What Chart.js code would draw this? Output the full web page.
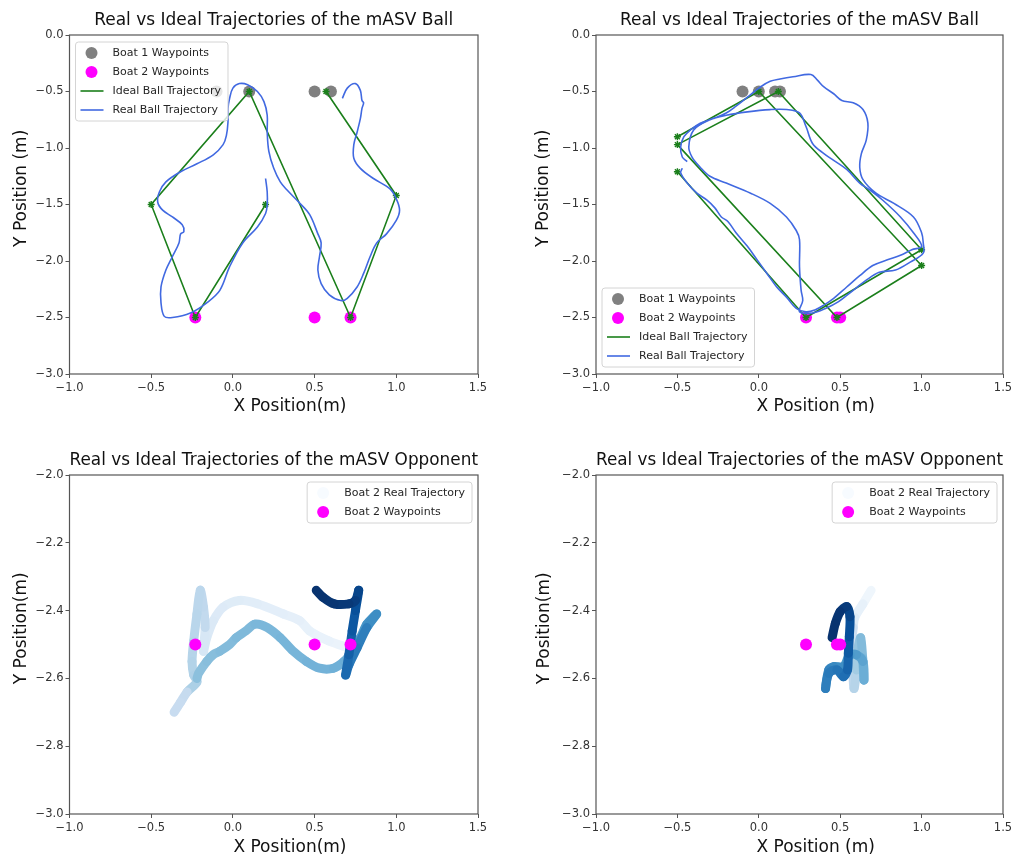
<!DOCTYPE html>
<html>
<head>
<meta charset="utf-8">
<script src="https://cdn.jsdelivr.net/npm/chart.js@4.4.1/dist/chart.umd.min.js"></script>
<style>
  body { margin: 0; background: #fff; width: 1011px; height: 858px; position: relative; overflow: hidden; }
  canvas { position: absolute; }
</style>
</head>
<body>
<canvas id="c1" width="500" height="429" style="left:0;top:0"></canvas>
<canvas id="c2" width="511" height="429" style="left:500px;top:0"></canvas>
<canvas id="c3" width="500" height="418" style="left:0;top:440px"></canvas>
<canvas id="c4" width="511" height="418" style="left:500px;top:440px"></canvas>
<script>
// tick labels
const xTicks = [-1, -0.5, 0, 0.5, 1, 1.5]
const yTicksBall = [-3, -2.5, -2, -1.5, -1, -0.5, 0]
const yTicksOpp = [-3, -2.8, -2.6, -2.4, -2.2, -2]

// panel 1 (top left)
const p1Boat1X = [-0.1, 0.1, 0.5, 0.6]
const p1Boat1Y = [-0.5, -0.5, -0.5, -0.5]
const p1Boat2X = [-0.23, 0.5, 0.72]
const p1Boat2Y = [-2.5, -2.5, -2.5]
const p1IdealX = [0.2, -0.23, -0.5, 0.1, 0.72, 1.0, 0.57]
const p1IdealY = [-1.5, -2.5, -1.5, -0.5, -2.5, -1.42, -0.5]
const p1RealX = [0.20,0.21,0.21,0.20,0.15,0.06,-0.02,-0.08,-0.16,-0.26,
  -0.37,-0.42,-0.44,-0.44,-0.41,-0.37,-0.33,-0.32,-0.30,-0.31,
  -0.37,-0.43,-0.46,-0.45,-0.41,-0.32,-0.22,-0.12,-0.06,-0.04,
  -0.03,-0.03,-0.02,0.00,0.04,0.09,0.15,0.19,0.21,0.21,
  0.22,0.25,0.29,0.33,0.41,0.47,0.52,0.54,0.53,0.52,
  0.54,0.59,0.66,0.70,0.76,0.80,0.84,0.88,0.94,1.00,
  1.02,1.00,0.96,0.86,0.78,0.74,0.74,0.76,0.78,0.79,
  0.80,0.79,0.78,0.75,0.70,0.67]
const p1RealY = [-1.27,-1.39,-1.50,-1.58,-1.70,-1.84,-2.05,-2.26,-2.37,-2.46,
  -2.50,-2.49,-2.37,-2.23,-2.08,-1.96,-1.84,-1.76,-1.74,-1.68,
  -1.61,-1.55,-1.48,-1.39,-1.30,-1.21,-1.14,-1.06,-0.97,-0.89,
  -0.77,-0.65,-0.56,-0.47,-0.43,-0.44,-0.50,-0.59,-0.71,-0.86,
  -1.03,-1.18,-1.30,-1.37,-1.49,-1.59,-1.76,-1.84,-1.96,-2.08,
  -2.20,-2.30,-2.35,-2.33,-2.23,-2.11,-1.96,-1.84,-1.76,-1.64,
  -1.55,-1.45,-1.36,-1.27,-1.18,-1.09,-0.97,-0.86,-0.74,-0.65,
  -0.60,-0.58,-0.49,-0.43,-0.47,-0.56]

// panel 2 (top right)
const p2Boat1X = [-0.1, 0.0, 0.1, 0.13]
const p2Boat1Y = [-0.5, -0.5, -0.5, -0.5]
const p2Boat2X = [0.29, 0.48, 0.5]
const p2Boat2Y = [-2.5, -2.5, -2.5]
const p2IdealX = [-0.5, 0.0, 1.0, 0.48, -0.5, 0.12, 1.0, 0.29, -0.5]
const p2IdealY = [-0.9, -0.5, -2.04, -2.5, -0.97, -0.5, -1.9, -2.5, -1.21]
const p2RealX = [-0.44,-0.47,-0.48,-0.46,-0.42,-0.36,-0.28,-0.20,-0.14,-0.07,
  0.01,0.07,0.13,0.21,0.32,0.36,0.40,0.46,0.51,0.58,
  0.64,0.67,0.66,0.63,0.62,0.64,0.72,0.83,0.95,1.00,
  1.01,1.01,0.93,0.84,0.74,0.66,0.57,0.49,0.41,0.33,
  0.25,0.27,0.26,0.25,0.25,0.23,0.17,0.07,-0.05,-0.20,
  -0.30,-0.36,-0.41,-0.43,-0.40,-0.30,-0.20,-0.07,0.07,0.17,
  0.25,0.29,0.33,0.40,0.46,0.54,0.62,0.68,0.76,0.87,
  0.95,1.00,0.94,0.87,0.79,0.70,0.62,0.54,0.46,0.40,
  0.35,0.29,0.23,0.17,0.11,0.05,-0.01,-0.07,-0.14,-0.19,
  -0.23,-0.27,-0.32,-0.38,-0.44,-0.48,-0.47]
const p2RealY = [-1.12,-1.08,-0.99,-0.90,-0.84,-0.78,-0.74,-0.69,-0.63,-0.55,
  -0.46,-0.41,-0.39,-0.37,-0.35,-0.40,-0.46,-0.52,-0.58,-0.60,
  -0.66,-0.78,-0.93,-1.05,-1.17,-1.28,-1.40,-1.49,-1.61,-1.75,
  -1.84,-1.93,-2.01,-2.08,-2.10,-2.17,-2.27,-2.36,-2.42,-2.46,
  -2.45,-2.35,-2.26,-2.05,-1.81,-1.73,-1.61,-1.49,-1.40,-1.31,
  -1.25,-1.17,-1.08,-0.99,-0.84,-0.75,-0.71,-0.68,-0.66,-0.66,
  -0.69,-0.81,-0.96,-1.05,-1.11,-1.19,-1.31,-1.37,-1.46,-1.61,
  -1.75,-1.87,-1.90,-1.95,-1.99,-2.04,-2.13,-2.23,-2.33,-2.39,
  -2.43,-2.45,-2.42,-2.32,-2.23,-2.11,-1.99,-1.87,-1.75,-1.65,
  -1.61,-1.53,-1.46,-1.40,-1.31,-1.22,-1.18]

// panel 3 (bottom left); shade = position in time (0 light .. 1 dark), null = break
const p3Boat2X = [-0.23, 0.5, 0.72]
const p3Boat2Y = [-2.5, -2.5, -2.5]
const p3TrajX = [0.71,0.59,0.47,0.41,0.31,0.15,0.04,-0.06,-0.12,-0.16,-0.18,
  -0.17,-0.18,-0.20,-0.22,-0.24,-0.25,-0.24,-0.22,
  -0.28,-0.32,-0.36, null,
  -0.22,-0.21,-0.16,-0.12,-0.08,-0.02,0.02,0.08,0.135,0.21,0.29,0.37,0.45,0.53,0.615,0.68,0.73,
  0.78,0.82,0.88,0.82,0.76,0.71,0.69,0.71,0.73,0.75,0.77,0.75,0.71,0.62,0.55,0.51]
const p3TrajY = [-2.51,-2.49,-2.46,-2.43,-2.41,-2.38,-2.37,-2.39,-2.43,-2.48,-2.52,
  -2.45,-2.39,-2.34,-2.41,-2.49,-2.55,-2.59,-2.61,
  -2.64,-2.67,-2.70, null,
  -2.60,-2.585,-2.55,-2.53,-2.52,-2.50,-2.48,-2.46,-2.44,-2.45,-2.48,-2.52,-2.55,-2.57,-2.57,-2.55,-2.52,
  -2.48,-2.44,-2.41,-2.45,-2.51,-2.56,-2.59,-2.53,-2.46,-2.40,-2.34,-2.37,-2.38,-2.38,-2.36,-2.34]
const p3Shade = [0.06,0.07,0.08,0.09,0.10,0.11,0.12,0.13,0.14,0.15,0.16,
  0.26,0.27,0.28,0.29,0.30,0.31,0.32,0.33,
  0.25,0.24,0.23, null,
  0.42,0.42,0.43,0.43,0.44,0.44,0.45,0.45,0.46,0.46,0.47,0.47,0.48,0.48,0.49,0.50,0.52,
  0.60,0.62,0.64,0.70,0.72,0.75,0.78,0.82,0.85,0.88,0.92,0.95,0.97,0.98,0.99,1.00]

// panel 4 (bottom right)
const p4Boat2X = [0.29, 0.48, 0.5]
const p4Boat2Y = [-2.5, -2.5, -2.5]
const p4TrajX = [0.69,0.64,0.59,0.58,0.57,0.577,0.585,0.60,0.61,0.626,0.638,0.646,0.64,0.60,0.56,
  0.52,0.46,0.43,0.41,0.43,0.48,0.52,0.545,0.55,0.556,0.56,0.54,0.50,0.47,0.45]
const p4TrajY = [-2.34,-2.38,-2.42,-2.45,-2.51,-2.575,-2.63,-2.575,-2.51,-2.48,-2.54,-2.605,-2.55,-2.53,-2.53,
  -2.565,-2.565,-2.575,-2.63,-2.585,-2.575,-2.595,-2.575,-2.526,-2.477,-2.418,-2.388,-2.403,-2.438,-2.48]
const p4Shade = [0.04,0.08,0.12,0.20,0.24,0.27,0.30,0.36,0.40,0.44,0.47,0.50,0.55,0.58,0.60,
  0.64,0.66,0.68,0.70,0.72,0.74,0.76,0.80,0.84,0.88,0.92,0.96,0.98,0.99,1.0]

const GRAY = '#808080'
const MAGENTA = '#ff00ff'
const GREEN = '#1b7f1b'
const ROYAL = '#4169e1'
const BLUES = ['#f7fbff','#deebf7','#c6dbef','#9ecae1','#6baed6','#4292c6','#2171b5','#08519c','#08306b']

Chart.defaults.font.family = '"DejaVu Sans", sans-serif'
Chart.defaults.color = '#333'

const hex = h => [1, 3, 5].map(i => parseInt(h.slice(i, i + 2), 16))
const blues = t => {
  const f = Math.max(0, Math.min(1, t)) * 8
  const i = Math.min(7, Math.floor(f))
  const a = hex(BLUES[i]), b = hex(BLUES[i + 1]), k = f - i
  const c = a.map((v, j) => Math.round(v + (b[j] - v) * k))
  return 'rgb(' + c.join(',') + ')'
}
const pts = (xs, ys) => xs.map((x, i) => (x === null ? { x: null, y: null } : { x, y: ys[i] }))
const fmt = v => v.toFixed(1).replace('-', '\u2212')

// matplotlib-like legend drawn inside the axes
const mplLegend = {
  id: 'mplLegend',
  afterDraw(chart, args, opts) {
    const ctx = chart.ctx, a = chart.chartArea
    const items = chart.data.datasets.filter(d => d.legendShape)
    ctx.save()
    ctx.font = '11px "DejaVu Sans"'
    const w = 37 + Math.max(...items.map(d => ctx.measureText(d.label).width)) + 7
    const h = 22 + 19 * (items.length - 1)
    const x = opts.corner.includes('l') ? a.left + 6 : a.right - 6 - w
    const y = opts.corner.includes('t') ? a.top + 7 : a.bottom - 7 - h
    ctx.beginPath()
    ctx.roundRect(x, y, w, h, 3)
    ctx.fillStyle = 'rgba(255,255,255,0.8)'
    ctx.fill()
    ctx.strokeStyle = '#d4d4d4'
    ctx.lineWidth = 1
    ctx.stroke()
    items.forEach((d, i) => {
      const cy = y + 11 + 19 * i
      if (d.legendShape === 'line') {
        ctx.strokeStyle = d.borderColor
        ctx.lineWidth = 1.6
        ctx.beginPath()
        ctx.moveTo(x + 5, cy)
        ctx.lineTo(x + 28, cy)
        ctx.stroke()
      } else {
        ctx.fillStyle = d.legendColor || d.backgroundColor
        ctx.beginPath()
        ctx.arc(x + 16, cy, 6, 0, Math.PI * 2)
        ctx.fill()
      }
      ctx.fillStyle = '#262626'
      ctx.textBaseline = 'middle'
      ctx.fillText(d.label, x + 37, cy + 0.5)
    })
    ctx.restore()
  }
}

const frame = {
  id: 'frame',
  afterDatasetsDraw(chart) {
    const ctx = chart.ctx, a = chart.chartArea
    ctx.save()
    ctx.strokeStyle = '#555'
    ctx.lineWidth = 1.2
    ctx.strokeRect(a.left, a.top, a.right - a.left, a.bottom - a.top)
    ctx.restore()
  }
}

const makeAxis = (ticksArr, title, size, titlePad, isX) => ({
  type: 'linear',
  min: ticksArr[0],
  max: ticksArr[ticksArr.length - 1],
  afterBuildTicks: s => { s.ticks = ticksArr.map(v => ({ value: v })) },
  afterFit: s => {
    if (isX) { s.height = size; s.paddingLeft = 0; s.paddingRight = 0 }
    else { s.width = size; s.paddingTop = 0; s.paddingBottom = 0 }
  },
  border: { display: false },
  grid: { drawOnChartArea: false, drawTicks: true, tickLength: 4, tickColor: '#555', tickWidth: 1 },
  ticks: {
    autoSkip: false, maxRotation: 0, padding: isX ? 3 : 2,
    font: { size: 11.5 }, color: '#333',
    callback: v => fmt(v)
  },
  title: {
    display: true, text: title, color: '#111',
    font: { size: 17 },
    padding: isX ? { top: 0, bottom: titlePad } : { top: titlePad, bottom: 0 }
  }
})

const makeChart = (id, cfg) => new Chart(document.getElementById(id), {
  type: 'scatter',
  data: { datasets: cfg.datasets },
  options: {
    responsive: false,
    animation: false,
    events: [],
    layout: { padding: { top: 0.6, right: cfg.padRight, left: 0, bottom: 0 } },
    scales: {
      x: makeAxis(xTicks, cfg.xTitle, cfg.xSize, cfg.xTitlePad, true),
      y: makeAxis(cfg.yTicks, cfg.yTitle, cfg.ySize, cfg.yTitlePad, false)
    },
    plugins: {
      legend: { display: false },
      tooltip: { enabled: false },
      title: {
        display: true, text: cfg.title, fullSize: false, color: '#111',
        font: { size: 17, weight: 'normal' }, padding: { top: 10, bottom: 4 }
      },
      mplLegend: { corner: cfg.legendCorner }
    }
  },
  plugins: [frame, mplLegend]
})

const waypoints = (label, xs, ys, color) => ({
  label, data: pts(xs, ys), legendShape: 'marker', order: 3,
  backgroundColor: color, borderWidth: 0, pointRadius: 6, showLine: false
})
const idealLine = (xs, ys) => ({
  label: 'Ideal Ball Trajectory', data: pts(xs, ys), legendShape: 'line', order: 1,
  showLine: true, borderColor: GREEN, borderWidth: 1.6, backgroundColor: GREEN,
  pointStyle: 'star', pointRadius: 3.5, pointBorderWidth: 1.4, pointBorderColor: GREEN
})
const realLine = (xs, ys) => ({
  label: 'Real Ball Trajectory', data: pts(xs, ys), legendShape: 'line', order: 0,
  showLine: true, borderColor: ROYAL, borderWidth: 1.6, pointRadius: 0, tension: 0.35
})
const oppTraj = (xs, ys, shade) => ({
  label: 'Boat 2 Real Trajectory', data: pts(xs, ys), legendShape: 'marker', legendColor: blues(0), order: 1,
  showLine: true, borderWidth: 9, borderCapStyle: 'round', borderJoinStyle: 'round', pointRadius: 0,
  tension: 0.3, spanGaps: false, borderColor: blues(0.5),
  segment: { borderColor: c => blues(shade[c.p0DataIndex]) }
})

const PAD = '      '
makeChart('c1', {
  title: 'Real vs Ideal Trajectories of the mASV Ball',
  xTitle: PAD + 'X Position(m)', yTitle: PAD + 'Y Position (m)',
  yTicks: yTicksBall, padRight: 22, xSize: 55, ySize: 69.5, xTitlePad: 12, yTitlePad: 11,
  legendCorner: 'tl',
  datasets: [
    waypoints('Boat 1 Waypoints', p1Boat1X, p1Boat1Y, GRAY),
    waypoints('Boat 2 Waypoints', p1Boat2X, p1Boat2Y, MAGENTA),
    idealLine(p1IdealX, p1IdealY),
    realLine(p1RealX, p1RealY)
  ]
})
makeChart('c2', {
  title: 'Real vs Ideal Trajectories of the mASV Ball',
  xTitle: PAD + 'X Position (m)', yTitle: PAD + 'Y Position (m)',
  yTicks: yTicksBall, padRight: 8, xSize: 55, ySize: 96, xTitlePad: 12, yTitlePad: 33,
  legendCorner: 'bl',
  datasets: [
    waypoints('Boat 1 Waypoints', p2Boat1X, p2Boat1Y, GRAY),
    waypoints('Boat 2 Waypoints', p2Boat2X, p2Boat2Y, MAGENTA),
    idealLine(p2IdealX, p2IdealY),
    realLine(p2RealX, p2RealY)
  ]
})
makeChart('c3', {
  title: 'Real vs Ideal Trajectories of the mASV Opponent',
  xTitle: PAD + 'X Position(m)', yTitle: PAD + 'Y Position(m)',
  yTicks: yTicksOpp, padRight: 22, xSize: 44, ySize: 69.5, xTitlePad: 0, yTitlePad: 11,
  legendCorner: 'tr',
  datasets: [
    oppTraj(p3TrajX, p3TrajY, p3Shade),
    Object.assign(waypoints('Boat 2 Waypoints', p3Boat2X, p3Boat2Y, MAGENTA), { order: 0 })
  ]
})
makeChart('c4', {
  title: 'Real vs Ideal Trajectories of the mASV Opponent',
  xTitle: PAD + 'X Position (m)', yTitle: PAD + 'Y Position(m)',
  yTicks: yTicksOpp, padRight: 8, xSize: 44, ySize: 96, xTitlePad: 0, yTitlePad: 34,
  legendCorner: 'tr',
  datasets: [
    oppTraj(p4TrajX, p4TrajY, p4Shade),
    Object.assign(waypoints('Boat 2 Waypoints', p4Boat2X, p4Boat2Y, MAGENTA), { order: 0 })
  ]
})
</script>
</body>
</html>
